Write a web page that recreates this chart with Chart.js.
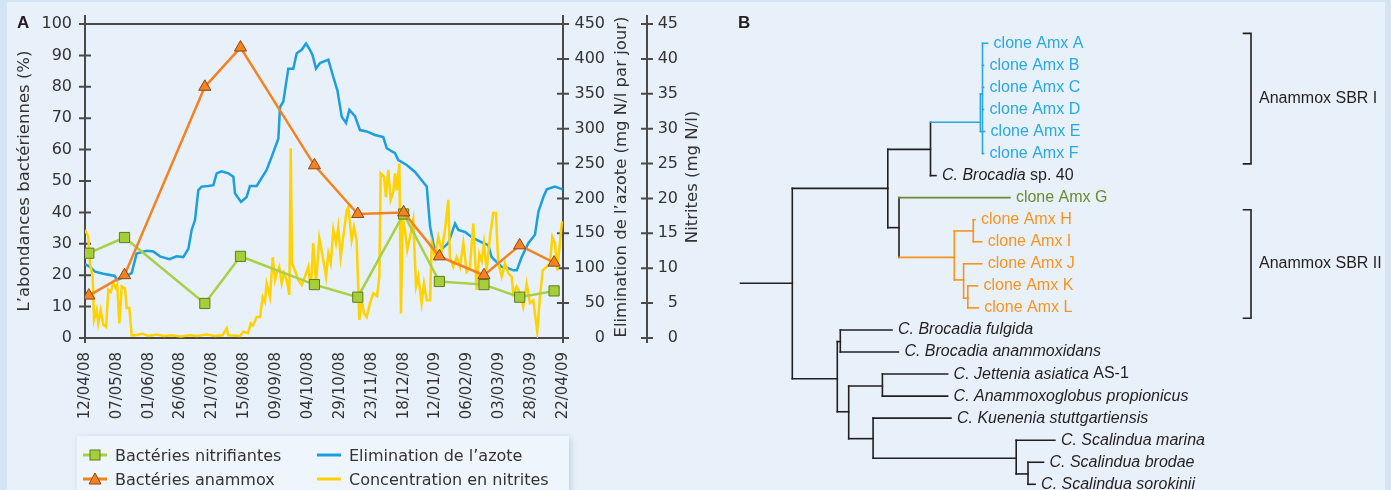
<!DOCTYPE html>
<html lang="fr">
<head>
<meta charset="utf-8">
<title>Réacteur anammox</title>
<script src="https://cdn.jsdelivr.net/npm/chart.js"></script>
<style>
  html, body { margin: 0; padding: 0; }
  body {
    position: relative;
    width: 1391px;
    height: 490px;
    overflow: hidden;
    background: #d5e4f4;
    font-family: 'DejaVu Sans', sans-serif;
    color: #333;
  }
  .sheet { position: absolute; left: 7px; top: 2px; width: 1378px; height: 488px; background: #e8f1fa; }
  canvas { position: absolute; top: 0; }
  #chartA { left: 0; }
  #chartB { left: 730px; }
  .panel-tag {
    position: absolute;
    top: 14px;
    font: bold 17px/17px 'Liberation Sans', Arial, sans-serif;
    color: #231f20;
  }
  .legend {
    position: absolute;
    left: 77px;
    top: 436px;
    width: 492px;
    height: 60px;
    box-sizing: border-box;
    padding: 7px 0 0 6px;
    background: #eef5fc;
    box-shadow: 2px 2px 6px rgba(70, 100, 140, 0.25);
    display: grid;
    grid-template-columns: 234px 1fr;
    grid-auto-rows: 24px;
    font-size: 16px;
  }
  .legend__item { display: flex; align-items: center; white-space: nowrap; }
  .legend__item svg { margin-right: 8px; flex: none; }
</style>
</head>
<body>
<div class="sheet"></div>
<canvas id="chartA" width="730" height="436"></canvas>
<canvas id="chartB" width="661" height="490"></canvas>
<div class="panel-tag" style="left:17px">A</div>
<div class="panel-tag" style="left:738px">B</div>
<div class="legend" id="legendA"></div>

<script>
// ---- panel A data (x = days since 12/04/08) ----
const dateLabels = ['12/04/08', '07/05/08', '01/06/08', '26/06/08', '21/07/08', '15/08/08', '09/09/08', '04/10/08',
    '29/10/08', '23/11/08', '18/12/08', '12/01/09', '06/02/09', '03/03/09', '28/03/09', '22/04/09'];
const TICK_STEP = 25;

const seriesLabels = ['Bactéries nitrifiantes', 'Bactéries anammox', 'Elimination de l’azote', 'Concentration en nitrites'];

const sampleDays = [3, 31, 94, 122, 180, 214, 250, 278, 313, 341, 368];
const nitrifiantes = [27, 32, 11, 26, 17, 13, 39.5, 18, 17, 13, 15];
const anammox = [13.5, 20, 80, 92.5, 55, 39.5, 40, 26, 20, 29.5, 24];

const azoteDays = [0, 3.9, 7.8, 14.4, 23.5, 24.8, 31.4, 36.6, 40.5, 48.4, 53.6, 58.8, 66.2, 71.9, 77.1, 81.1, 83.7,
    86.3, 88.9, 91.5, 96.7, 100.7, 103.3, 107.2, 112.4, 116.4, 117.7, 122.4, 126.8, 129.4, 134.7, 142.5, 146.5,
    151.7, 153, 155.6, 159.5, 163.4, 166.1, 170, 173.4, 176.5, 178.6, 181.2, 184.4, 190.9, 194.8, 198, 201.4,
    204.8, 207.4, 211.8, 215.7, 221, 227.5, 234, 236.7, 243.2, 245.8, 252.4, 258.9, 264.1, 268.1, 270.7, 273.2,
    276.4, 279, 285, 290.3, 292.9, 298.1, 304.6, 312.5, 316.4, 319, 326.9, 332.1, 336, 338.7, 342.6, 347.8, 353,
    355.7, 359.6, 362.3, 368.7, 374.8];
const azoteValues = [106, 102, 95, 92, 89, 83, 88, 93, 121, 125, 124, 117, 113, 117, 116, 128, 155, 169, 212, 217,
    218, 219, 236, 239, 236, 231, 207, 195, 202, 218, 218, 241, 260, 286, 331, 339, 386, 386, 408, 413, 422, 413,
    405, 386, 394, 399, 374, 355, 317, 308, 327, 318, 298, 296, 291, 288, 272, 265, 255, 248, 238, 226, 217, 160,
    136, 116, 126, 136, 164, 155, 152, 143, 136, 133, 116, 102, 100, 97, 97, 116, 136, 148, 181, 202, 213, 217, 213];

const nitriteDays = [0, 2.6, 3.9, 6, 7.1, 9.2, 10.4, 12.3, 14.4, 16.5, 18.3, 20.2, 22.2, 24.3, 25.3, 26.9, 28.8,
    31.4, 32.7, 34.8, 36.6, 39.2, 45, 50, 56, 62, 68, 75, 82, 88, 95, 102, 108, 111.2, 112.4, 121.6, 124.2, 127.9,
    130, 131.8, 134.7, 137.3, 139.4, 141.2, 142.5, 145.1, 147.3, 149.1, 150.4, 152.4, 154.3, 156.1, 158.2, 160.3,
    161.4, 162.4, 164.7, 167.3, 170, 172.6, 175.2, 177.1, 179.1, 181.2, 183.8, 186.9, 189.1, 190.9, 192.8, 194.8,
    196.9, 198.7, 200.6, 202.6, 205.3, 206.6, 209.2, 211, 213.1, 215.2, 217.1, 218.9, 221, 223.6, 226.2, 229.1,
    230.9, 232, 234.6, 236.1, 237.9, 239.8, 241.9, 243.2, 244.5, 246.6, 247.9, 249.2, 251, 252.8, 255, 257.5,
    259.7, 261.5, 264.1, 265.9, 268.1, 270.7, 272, 274.6, 277.2, 279.8, 282.4, 285, 286.3, 288.9, 291.6, 294.2,
    296.8, 299.4, 302, 304.6, 307.3, 309.3, 311.2, 313, 315.1, 317.7, 320.3, 322.4, 324.2, 326.9, 329.5, 332.1,
    334.7, 336, 338.7, 341.3, 343.8, 346.5, 349.1, 351.7, 354.8, 356.9, 359.1, 362.2, 364.8, 366.6, 368.7, 370.5,
    372.6, 374, 375];
const nitriteValues = [15.5, 14.5, 10.7, 8.8, 2.6, 4, 2.1, 4, 1.9, 1.6, 6.9, 6.6, 7.8, 7.1, 7.6, 2.1, 7.4, 7.1,
    4.3, 4.3, 0.4, 0.4, 0.6, 0.3, 0.5, 0.3, 0.4, 0.2, 0.4, 0.3, 0.5, 0.3, 0.4, 1.4, 0.4, 0.3, 0.9, 0.7, 2.1, 1.8,
    3, 3, 5.9, 5.2, 7.8, 5.9, 11.6, 8.3, 9.3, 10.2, 7.8, 9.3, 8.3, 6.2, 27.2, 10.7, 9.7, 8.3, 7.6, 8.8, 10.2, 6.9,
    13.6, 7.8, 14.3, 11.2, 8.8, 12.1, 10.7, 15.5, 13.6, 15.9, 11.6, 14.5, 18.3, 18.8, 14, 15.9, 14, 2.6, 5.4, 3.5,
    3, 5, 6.4, 6, 8.8, 23.6, 23.1, 20.2, 24.1, 19.8, 21, 23.6, 21.2, 25, 3.5, 17.4, 15.5, 12.6, 14.5, 16.9, 7.4,
    8.8, 5, 7.8, 5.4, 5.4, 13.6, 11.6, 14.5, 12.5, 15.5, 19.8, 11.6, 10.2, 11.6, 10.2, 13.6, 9.5, 10.2, 16.4, 6.9,
    12, 11, 13.6, 9.7, 14.5, 17.9, 17.9, 10.7, 8.8, 10.7, 9.3, 8.8, 6.4, 7.4, 6.4, 4.5, 7.8, 5, 5.4, 0.9, 5.9,
    9.7, 10.2, 10.7, 14.5, 13.6, 9.7, 13.6, 16.4, 16.7];

// ---- panel B data: tree nodes (depth in substitution units, row = leaf line) ----
const nodeIds =     ['root', 'n1', 'n2', 'bl', 'bl2', 'n3', 'or', 'hi', 'jkl', 'kl', 'n4', 'bro', 'n5', 'ja', 'n6', 'sca', 'bs'];
const nodeParents = [null, 'root', 'n1', 'n2', 'bl', 'n1', 'n3', 'or', 'or', 'jkl', 'root', 'n4', 'n4', 'n5', 'n5', 'n6', 'sca'];
const nodeDepths =  [0.518, 1.473, 1.9, 2.399, 2.42, 1.585, 2.138, 2.328, 2.231, 2.273, 0.968, 0.998, 1.082, 1.419, 1.326, 2.757, 2.875];
const nodeRows =    [10.88, 6.58, 4.81, 3.58, 2.3, 8.36, 9.71, 8.51, 10.73, 11.56, 15.21, 13.53, 16.71, 15.54, 17.93, 18.82, 19.53];
const nodeClades =  ['', '', '', 'I', 'I', '', 'II', 'II', 'II', 'II', '', '', '', '', '', '', ''];

const leafItalic = ['', '', '', '', '', '', 'C. Brocadia', '', '', '', '', '', '',
    'C. Brocadia fulgida', 'C. Brocadia anammoxidans', 'C. Jettenia asiatica', 'C. Anammoxoglobus propionicus',
    'C. Kuenenia stuttgartiensis', 'C. Scalindua marina', 'C. Scalindua brodae', 'C. Scalindua sorokinii'];
const leafPlain = ['clone Amx A', 'clone Amx B', 'clone Amx C', 'clone Amx D', 'clone Amx E', 'clone Amx F',
    ' sp. 40', 'clone Amx G', 'clone Amx H', 'clone Amx I', 'clone Amx J', 'clone Amx K', 'clone Amx L',
    '', '', ' AS-1', '', '', '', '', ''];
const leafParents = ['bl2', 'bl2', 'bl2', 'bl2', 'bl', 'bl2', 'n2', 'n3', 'hi', 'hi', 'jkl', 'kl', 'kl',
    'bro', 'bro', 'ja', 'ja', 'n6', 'sca', 'bs', 'bs'];
const leafDepths = [2.471, 2.43, 2.43, 2.43, 2.441, 2.43, 1.955, 2.694, 2.345, 2.412, 2.412, 2.37, 2.378,
    1.515, 1.579, 2.071, 2.071, 2.105, 3.144, 3.03, 2.946];
const leafClades = ['I', 'I', 'I', 'I', 'I', 'I', '', 'G', 'II', 'II', 'II', 'II', 'II',
    '', '', '', '', '', '', '', ''];

const bracketLabels = ['Anammox SBR I', 'Anammox SBR II'];
const bracketFirstRow = [0, 8];
const bracketLastRow = [5, 12];

// ---- styles ----
const AXIS_COLOR = '#4a4a4a';
const TEXT_COLOR = '#333333';
const SERIES_COLORS = ['#a9cf46', '#f58220', '#1c9fdc', '#ffd200'];
const CLADE_COLORS = { '': '#231f20', I: '#29a8e0', G: '#6b8a31', II: '#f7941d' };
const TREE_FONT = '16px "Liberation Sans", Arial, sans-serif';

function toPoints(xs, ys) {
    return xs.map(function (x, i) { return { x: x, y: ys[i] }; });
}

// axis lines with cross ticks, frame, and the two right-hand titles
const axisFrame = {
    id: 'axisFrame',
    beforeDatasetsDraw(chart) {
        const { ctx, chartArea: area, scales } = chart;
        const nitriteAxisX = scales.yNitrite.left + 42;
        const axes = [[scales.y, area.left], [scales.yAzote, area.right], [scales.yNitrite, nitriteAxisX]];

        ctx.save();
        ctx.strokeStyle = AXIS_COLOR;
        ctx.lineWidth = 2;
        ctx.beginPath();
        ctx.moveTo(area.left, area.top);
        ctx.lineTo(area.right, area.top);
        ctx.moveTo(area.left - 4, area.bottom);
        ctx.lineTo(area.right + 4, area.bottom);
        axes.forEach(function ([scale, x]) {
            ctx.moveTo(x, area.top - 9);
            ctx.lineTo(x, area.bottom + 5);
            scale.ticks.forEach(function (tick) {
                const y = scale.getPixelForValue(tick.value);
                ctx.moveTo(x - 6, y);
                ctx.lineTo(x + 6, y);
            });
        });
        ctx.stroke();

        ctx.fillStyle = TEXT_COLOR;
        ctx.font = '16.5px "DejaVu Sans", sans-serif';
        ctx.textAlign = 'center';
        ctx.textBaseline = 'middle';
        const midY = (area.top + area.bottom) / 2 - 4;
        [['Elimination de l’azote (mg N/l par jour)', nitriteAxisX - 25],
         ['Nitrites (mg N/l)', scales.yNitrite.right + 15]].forEach(function ([text, x]) {
            ctx.save();
            ctx.translate(x, midY);
            ctx.rotate(-Math.PI / 2);
            ctx.fillText(text, 0, 0);
            ctx.restore();
        });
        ctx.restore();
    }
};

function yTicks(step, padding, crossAlign) {
    return { stepSize: step, padding: padding, crossAlign: crossAlign, color: TEXT_COLOR, font: { size: 16 } };
}

// fixed axis widths; the label padding must not push the plot area down
function fixWidth(width) {
    return function (scale) {
        scale.width = width;
        scale.paddingTop = 0;
        scale.paddingBottom = 0;
    };
}

new Chart(document.getElementById('chartA'), {
    type: 'line',
    data: {
        datasets: [{
            label: seriesLabels[0],
            data: toPoints(sampleDays, nitrifiantes),
            yAxisID: 'y',
            borderColor: SERIES_COLORS[0],
            borderWidth: 2.5,
            pointStyle: 'rect',
            pointRadius: 7.2,
            pointBackgroundColor: '#a6ce39',
            pointBorderColor: '#5d7d1e',
            pointBorderWidth: 1,
            order: 1
        }, {
            label: seriesLabels[1],
            data: toPoints(sampleDays, anammox),
            yAxisID: 'y',
            borderColor: SERIES_COLORS[1],
            borderWidth: 2.5,
            pointStyle: 'triangle',
            pointRadius: 7,
            pointBackgroundColor: '#f58220',
            pointBorderColor: '#8a4812',
            pointBorderWidth: 1,
            order: 0
        }, {
            label: seriesLabels[2],
            data: toPoints(azoteDays, azoteValues),
            yAxisID: 'yAzote',
            borderColor: SERIES_COLORS[2],
            borderWidth: 2.5,
            pointRadius: 0,
            order: 3
        }, {
            label: seriesLabels[3],
            data: toPoints(nitriteDays, nitriteValues),
            yAxisID: 'yNitrite',
            borderColor: SERIES_COLORS[3],
            borderWidth: 2.5,
            pointRadius: 0,
            order: 2
        }]
    },
    options: {
        responsive: false,
        animation: false,
        events: [],
        font: { family: '"DejaVu Sans", sans-serif' },
        layout: { padding: { top: 24, right: 52, bottom: 0, left: 0 } },
        plugins: { legend: { display: false }, tooltip: { enabled: false } },
        scales: {
            x: {
                type: 'linear',
                min: 0,
                max: TICK_STEP * (dateLabels.length - 1),
                grid: { display: false, drawTicks: false },
                border: { display: false },
                ticks: {
                    stepSize: TICK_STEP,
                    autoSkip: false,
                    minRotation: 90,
                    maxRotation: 90,
                    padding: 14,
                    color: TEXT_COLOR,
                    font: { size: 15 },
                    callback: function (value) { return dateLabels[Math.round(value / TICK_STEP)]; }
                },
                afterFit: function (scale) { scale.height = 98; }
            },
            y: {
                position: 'left',
                min: 0,
                max: 100,
                grid: { display: false, drawTicks: false },
                border: { display: false },
                ticks: yTicks(10, 13, 'near'),
                title: {
                    display: true,
                    text: 'L’abondances bactériennes (%)',
                    color: TEXT_COLOR,
                    font: { size: 16.5 },
                    padding: { top: 15, bottom: 0 }
                },
                afterFit: fixWidth(85)
            },
            yAzote: {
                position: 'right',
                min: 0,
                max: 450,
                grid: { display: false, drawTicks: false },
                border: { display: false },
                ticks: yTicks(50, 11.5, 'far'),
                afterFit: fixWidth(42)
            },
            yNitrite: {
                position: 'right',
                min: 0,
                max: 45,
                grid: { display: false, drawTicks: false },
                border: { display: false },
                ticks: yTicks(5, 52.6, 'far'),
                afterFit: fixWidth(73)
            }
        }
    },
    plugins: [axisFrame]
});

// legend of panel A, two columns
function legendIcon(index) {
    const color = SERIES_COLORS[index];
    let marker = '';
    if (index === 0) marker = '<rect x="7" y="2" width="10" height="10" fill="#a6ce39" stroke="#5d7d1e"/>';
    if (index === 1) marker = '<polygon points="12,1 18,12 6,12" fill="#f58220" stroke="#8a4812"/>';
    return '<svg width="24" height="14" viewBox="0 0 24 14">' +
        '<line x1="0" y1="7" x2="24" y2="7" stroke="' + color + '" stroke-width="3"/>' + marker + '</svg>';
}

const legendEl = document.getElementById('legendA');
[0, 2, 1, 3].forEach(function (index) {
    const item = document.createElement('div');
    item.className = 'legend__item';
    item.innerHTML = legendIcon(index) + '<span>' + seriesLabels[index] + '</span>';
    legendEl.appendChild(item);
});

// ---- panel B: the tree as line segments on linear scales ----
const BRACKET_X = 5.105;
const BRACKET_TICK = 0.075;
const LABEL_GAP = 6;

function buildTreeSegments() {
    const depthOf = {};
    const cladeOf = {};
    const childRows = {};
    const segments = [];

    nodeIds.forEach(function (id, i) {
        depthOf[id] = nodeDepths[i];
        cladeOf[id] = nodeClades[i];
    });

    function addBranch(parent, depth, row, clade) {
        const start = parent ? depthOf[parent] : 0;
        segments.push({ clade: clade, points: [{ x: start, y: row }, { x: depth, y: row }] });
        if (parent) {
            childRows[parent] = childRows[parent] || [];
            childRows[parent].push(row);
        }
    }

    nodeIds.forEach(function (id, i) { addBranch(nodeParents[i], nodeDepths[i], nodeRows[i], nodeClades[i]); });
    leafParents.forEach(function (parent, row) { addBranch(parent, leafDepths[row], row, leafClades[row]); });

    Object.keys(childRows).forEach(function (id) {
        const rows = childRows[id];
        segments.push({
            clade: cladeOf[id],
            points: [{ x: depthOf[id], y: Math.min.apply(null, rows) }, { x: depthOf[id], y: Math.max.apply(null, rows) }]
        });
    });

    bracketLabels.forEach(function (label, i) {
        const top = bracketFirstRow[i] - 0.45;
        const bottom = bracketLastRow[i] + 0.47;
        segments.push({
            clade: '',
            points: [
                { x: BRACKET_X - BRACKET_TICK, y: top }, { x: BRACKET_X, y: top },
                { x: BRACKET_X, y: bottom }, { x: BRACKET_X - BRACKET_TICK, y: bottom }
            ]
        });
    });

    return segments;
}

const treeLabels = {
    id: 'treeLabels',
    afterDatasetsDraw(chart) {
        const { ctx, scales: { x, y } } = chart;
        ctx.save();
        ctx.textBaseline = 'middle';
        ctx.textAlign = 'left';

        leafPlain.forEach(function (plain, row) {
            let px = x.getPixelForValue(leafDepths[row]) + LABEL_GAP;
            const py = y.getPixelForValue(row);
            ctx.fillStyle = CLADE_COLORS[leafClades[row]];
            if (leafItalic[row]) {
                ctx.font = 'italic ' + TREE_FONT;
                ctx.fillText(leafItalic[row], px, py);
                px += ctx.measureText(leafItalic[row]).width;
            }
            if (plain) {
                ctx.font = TREE_FONT;
                ctx.fillText(plain, px, py);
            }
        });

        ctx.font = TREE_FONT;
        ctx.fillStyle = CLADE_COLORS[''];
        bracketLabels.forEach(function (label, i) {
            const py = y.getPixelForValue((bracketFirstRow[i] + bracketLastRow[i]) / 2);
            ctx.fillText(label, x.getPixelForValue(BRACKET_X) + 8, py);
        });
        ctx.restore();
    }
};

new Chart(document.getElementById('chartB'), {
    type: 'scatter',
    data: {
        datasets: buildTreeSegments().map(function (segment) {
            return {
                data: segment.points,
                showLine: true,
                borderColor: CLADE_COLORS[segment.clade],
                borderWidth: 1.6,
                borderCapStyle: 'square',
                pointRadius: 0,
                clip: false
            };
        })
    },
    options: {
        responsive: false,
        animation: false,
        events: [],
        layout: { padding: { left: 10.5, right: 50.5, top: 43.3, bottom: 5.7 } },
        plugins: { legend: { display: false }, tooltip: { enabled: false } },
        scales: {
            x: { type: 'linear', min: 0, max: 6, display: false },
            y: { type: 'linear', min: 0, max: 20, reverse: true, display: false }
        }
    },
    plugins: [treeLabels]
});
</script>
</body>
</html>
